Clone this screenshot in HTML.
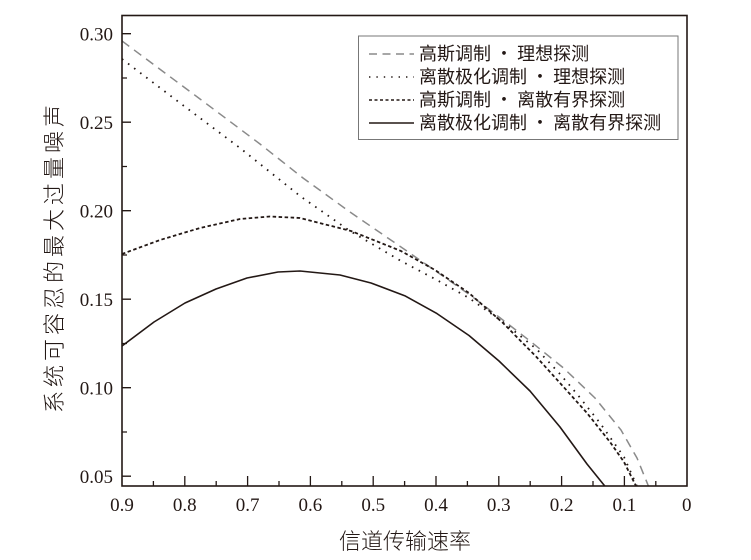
<!DOCTYPE html>
<html><head><meta charset="utf-8"><style>
html,body{margin:0;padding:0;background:#fff;}
svg{display:block;}
</style></head><body>
<svg width="751" height="560" viewBox="0 0 751 560" xmlns="http://www.w3.org/2000/svg">
<rect x="0" y="0" width="751" height="560" fill="#fff"/>
<g font-family="'Liberation Serif', serif" font-size="19" fill="#231815" text-anchor="end">
<text x="113" y="40.5">0.30</text>
<text x="113" y="129">0.25</text>
<text x="113" y="217.5">0.20</text>
<text x="113" y="306">0.15</text>
<text x="113" y="394.5">0.10</text>
<text x="113" y="483">0.05</text>
</g>
<g font-family="'Liberation Serif', serif" font-size="19" fill="#231815" text-anchor="middle">
<text x="122" y="511">0.9</text>
<text x="184.8" y="511">0.8</text>
<text x="247.6" y="511">0.7</text>
<text x="310.4" y="511">0.6</text>
<text x="373.2" y="511">0.5</text>
<text x="436" y="511">0.4</text>
<text x="498.8" y="511">0.3</text>
<text x="561.6" y="511">0.2</text>
<text x="624.4" y="511">0.1</text>
<text x="686.8" y="511">0</text>
</g>
<text x="405" y="549" font-family="'Noto Sans CJK SC',sans-serif" font-weight="300" font-size="22" fill="#231815" text-anchor="middle">信道传输速率</text>
<text transform="translate(62,257) rotate(-90)" font-family="'Noto Sans CJK SC',sans-serif" font-weight="300" font-size="22" letter-spacing="4" fill="#231815" text-anchor="middle">系统可容忍的最大过量噪声</text>
<g stroke="#231815" stroke-width="1.3" fill="none">
<path d="M122 33.7h9 M122 122.2h9 M122 210.7h9 M122 299.2h9 M122 387.7h9 M122 476.2h9"/>
<path d="M122 78h5 M122 166.5h5 M122 255h5 M122 343.5h5 M122 432h5"/>
<path d="M184.8 486v-10 M247.6 486v-10 M310.4 486v-10 M373.2 486v-10 M436 486v-10 M498.8 486v-10 M561.6 486v-10 M624.4 486v-10"/>
<path d="M153.4 486v-5 M216.2 486v-5 M279 486v-5 M341.8 486v-5 M404.6 486v-5 M467.4 486v-5 M530.2 486v-5 M593 486v-5 M655.8 486v-5"/>
</g>
<defs><clipPath id="c"><rect x="122" y="15.5" width="565" height="470.5"/></clipPath></defs>
<g clip-path="url(#c)" fill="none" stroke-linejoin="round">
<path d="M122 41 L200 99 L260 144 L303 178 L350 212 L401 247 L440 274 L470 295 L499 317 L530 341 L563.5 368 L595 398 L621 430 L637 458 L648 485 L652 494" stroke="#8a8a8a" stroke-width="1.5" stroke-dasharray="9,6"/>
<path d="M122 59 L180 103 L240 148 L300 196 L350 231 L401 261 L435 279 L469 298 L503 322 L536.5 349 L560 374 L577 394 L600 423 L624 457 L636 484 L640 494" stroke="#231815" stroke-width="1.8" stroke-dasharray="1.6,6"/>
<path d="M122 254 L160 240 L200 228 L240 219 L270 216.5 L300 218 L351 231 L401 251 L435 270 L469 293 L503 323 L536.5 357 L560 383 L587 413 L610 442 L624 462 L632 478 L638 490" stroke="#231815" stroke-width="1.8" stroke-dasharray="3.5,2.5"/>
<path d="M122 346 L154 322 L185 303 L216 289 L247 278 L278 272 L300 271 L340 275 L371 283 L404.7 295.7 L437 313.6 L469 335.5 L499 361 L530 391 L560 427 L587 464 L608 490" stroke="#231815" stroke-width="1.6"/>
</g>
<rect x="122" y="15.5" width="565" height="470.5" fill="none" stroke="#231815" stroke-width="1.6"/>
<rect x="358.5" y="36" width="319.5" height="103.5" fill="#fff" stroke="#777" stroke-width="1"/>
<g stroke-width="1.5" fill="none">
<line x1="369" y1="54" x2="414" y2="54" stroke="#8a8a8a" stroke-dasharray="8,5.5"/>
<line x1="369" y1="77" x2="414" y2="77" stroke="#231815" stroke-dasharray="1.4,6"/>
<line x1="369" y1="100" x2="414" y2="100" stroke="#231815" stroke-width="1.6" stroke-dasharray="3,2.5"/>
<line x1="369" y1="123" x2="414" y2="123" stroke="#231815" stroke-width="1.6"/>
</g>
<g font-family="'Noto Sans CJK SC',sans-serif" font-size="18" fill="#231815">
<text x="419" y="60">高斯调制 • 理想探测</text>
<text x="419" y="83">离散极化调制 • 理想探测</text>
<text x="419" y="106">高斯调制 • 离散有界探测</text>
<text x="419" y="129">离散极化调制 • 离散有界探测</text>
</g>
</svg>
</body></html>
